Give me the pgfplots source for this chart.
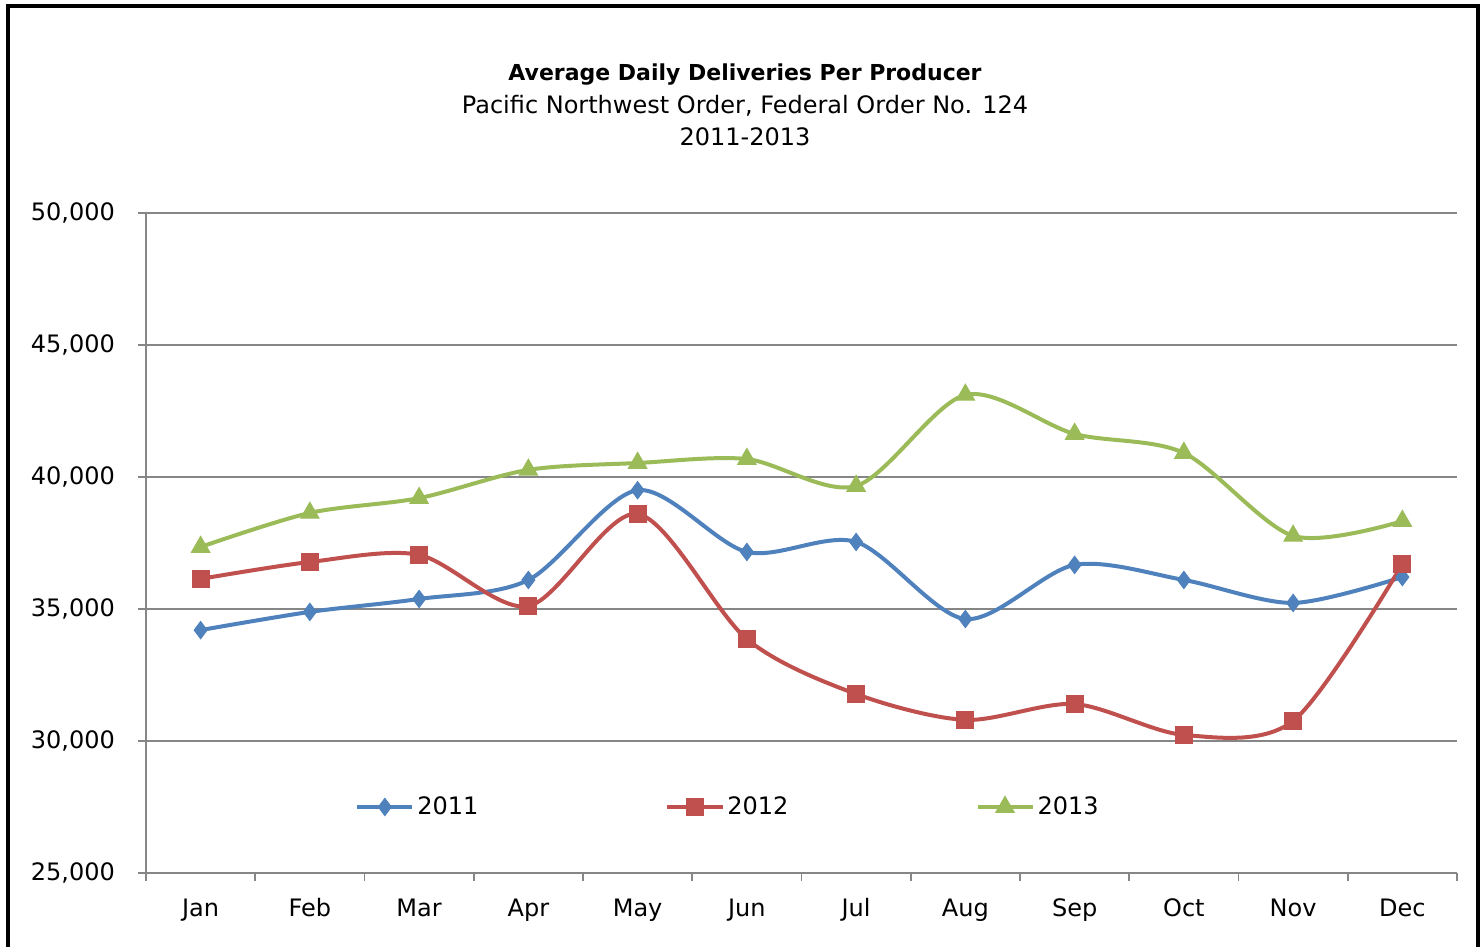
\documentclass[border=0pt]{standalone}
\usepackage{fontspec}
\setmainfont{DejaVu Sans}
\usepackage{pgfplots}
\usepackage{pgfplotstable}
\pgfplotsset{compat=1.18}

\definecolor{c2011}{HTML}{4F81BD}
\definecolor{c2012}{HTML}{C0504D}
\definecolor{c2013}{HTML}{9BBB59}
\definecolor{gridgray}{HTML}{868686}

% average daily deliveries per producer, pounds
\pgfplotstableread{
m  y2011  y2012  y2013
1  34200  36140  37350
2  34890  36780  38640
3  35380  37050  39200
4  36100  35110  40270
5  39500  38600  40530
6  37160  33860  40680
7  37540  31780  39660
8  34620  30800  43110
9  36670  31400  41630
10 36100  30230  40910
11 35230  30760  37770
12 36210  36700  38330
}\deliveries

\begin{document}
\begin{tikzpicture}
\useasboundingbox (-73pt,-37pt) rectangle (669pt,436.5pt);
\draw[line width=2.4pt] (-69pt,-80pt) rectangle (666pt,433.5pt);

\node[font=\fontsize{11}{13}\selectfont\bfseries] at (299.5pt,399pt) {Average Daily Deliveries Per Producer};
\node[font=\fontsize{12}{14}\selectfont] at (299.5pt,383.5pt) {Pacific Northwest Order, Federal Order No. 124};
\node[font=\fontsize{12}{14}\selectfont] at (299.5pt,368pt) {2011-2013};

\begin{axis}[
    scale only axis,
    width=655.5pt, height=330pt,
    xmin=0.5, xmax=12.5,
    ymin=25000, ymax=50000,
    xtick={1,...,12},
    xticklabels={Jan,Feb,Mar,Apr,May,Jun,Jul,Aug,Sep,Oct,Nov,Dec},
    minor xtick={0.5,1.5,...,12.5},
    ytick={25000,30000,...,50000},
    scaled y ticks=false,
    /pgf/number format/.cd, 1000 sep={,}, assume math mode=true,
    /pgfplots/.cd,
    axis lines=left,
    axis line style={-, draw=gridgray, line width=0.8pt},
    tick align=outside,
    major tick length=4pt, minor tick length=4pt,
    major x tick style={draw=none},
    tick style={draw=gridgray, line width=0.8pt},
    ymajorgrids,
    grid style={draw=gridgray, line width=0.8pt},
    ticklabel style={font=\fontsize{12}{14}\selectfont},
    yticklabel style={xshift=-8pt},
    xticklabel style={yshift=-5pt, text height=9pt, text depth=2.5pt},
    legend columns=3,
    legend style={at={(0.1594,0.1)}, anchor=west, draw=none, fill=none,
        font=\fontsize{12}{14}\selectfont, inner xsep=0pt,
        nodes={inner xsep=1.5pt},
        /tikz/every even column/.append style={column sep=92pt}},
    legend image code/.code={
        \draw[mark repeat=2,mark phase=2,#1] plot coordinates {(0pt,0pt) (13.75pt,0pt) (27.5pt,0pt)};
    },
    every axis plot/.append style={line width=2pt, smooth, tension=0.5},
]
\addplot[c2011, mark=diamond*, mark size=4.3pt, mark options={solid, line width=0.5pt, fill=c2011}] table[x=m, y=y2011] {\deliveries};
\addlegendentry{2011}
\addplot[c2012, mark=square*, mark size=4.2pt, mark options={solid, line width=0.5pt, fill=c2012}] table[x=m, y=y2012] {\deliveries};
\addlegendentry{2012}
\addplot[c2013, mark=triangle*, mark size=5.3pt, mark options={solid, line width=0.5pt, fill=c2013}] table[x=m, y=y2013] {\deliveries};
\addlegendentry{2013}
\end{axis}
\end{tikzpicture}
\end{document}
